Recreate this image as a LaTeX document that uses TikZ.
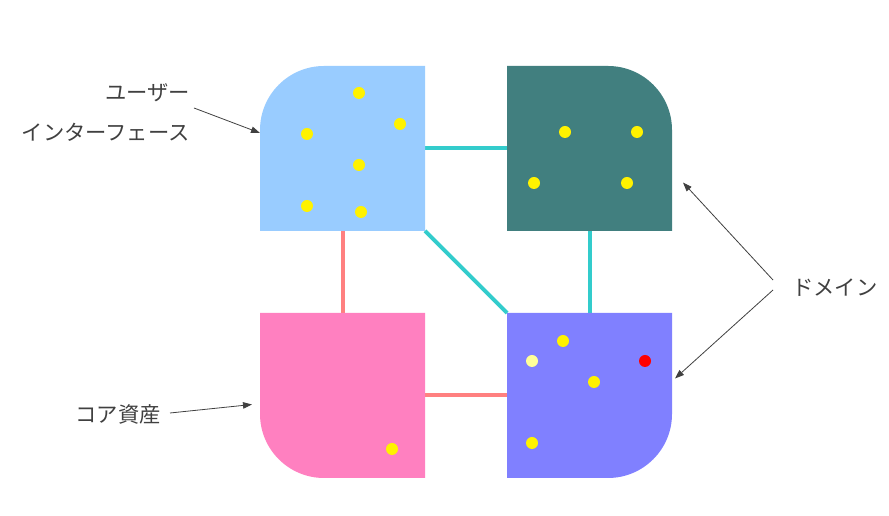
\documentclass[tikz,border=0pt]{standalone}
\usepackage{fontspec}
\newfontfamily\jpfont{Noto Sans CJK JP}
\usetikzlibrary{positioning,arrows.meta}

\definecolor{uiblue}{HTML}{99CCFF}
\definecolor{domteal}{HTML}{417F7F}
\definecolor{corepink}{HTML}{FF80C0}
\definecolor{domviolet}{HTML}{8080FF}
\definecolor{linkcyan}{HTML}{33CCCC}
\definecolor{linksalmon}{HTML}{FF8080}
\definecolor{palegold}{HTML}{FFFF99}
\definecolor{labelgray}{HTML}{404040}

\begin{document}
\begin{tikzpicture}[x=1pt,y=1pt,
    block/.style={minimum size=165pt, inner sep=0pt, outer sep=0pt},
    link/.style={line width=4pt},
    tag/.style={text=labelgray, inner sep=0pt, align=right,
        font=\jpfont\fontsize{21.3}{40}\selectfont},
    pointer/.style={-{Triangle[length=9pt,width=6.5pt]}, labelgray, line width=0.8pt}]
    \useasboundingbox (0,0) rectangle (889,516);

    % Quadrants
    \node[block] (ui) at (342.5,367.5) {};
    \node[block, right=82pt of ui] (dtop) {};
    \node[block, below=82pt of ui] (core) {};
    \node[block, right=82pt of core] (dbot) {};

    % Links
    \draw[link, linkcyan] (ui) -- (dtop);
    \draw[link, linkcyan] (ui) -- (dbot);
    \draw[link, linkcyan] (dtop) -- (dbot);
    \draw[link, linksalmon] (ui) -- (core);
    \draw[link, linksalmon] (core) -- (dbot);

    % Shapes with one rounded corner
    \fill[uiblue] (ui.south west) -- ([yshift=-64pt]ui.north west)
        arc[start angle=180, end angle=90, radius=64pt] -- (ui.north east) -- (ui.south east) -- cycle;
    \fill[domteal] (dtop.south west) -- (dtop.north west) -- ([xshift=-64pt]dtop.north east)
        arc[start angle=90, end angle=0, radius=64pt] -- (dtop.south east) -- cycle;
    \fill[corepink] (core.north west) -- ([yshift=64pt]core.south west)
        arc[start angle=180, end angle=270, radius=64pt] -- (core.south east) -- (core.north east) -- cycle;
    \fill[domviolet] (dbot.north west) -- (dbot.south west) -- ([xshift=-64pt]dbot.south east)
        arc[start angle=270, end angle=360, radius=64pt] -- (dbot.north east) -- cycle;

    % Dots
    \foreach \px/\py in {359/423, 400/392, 307/382, 359/351, 307/310, 361/304,
                         565/384, 637/384, 534/333, 627/333,
                         392/67, 563/175, 594/134, 532/73}
        \fill[yellow] (\px,\py) circle[radius=6pt];
    \fill[palegold] (532,155) circle[radius=6pt];
    \fill[red] (645,155) circle[radius=6pt];

    % Labels
    \node[tag, anchor=east] (uitag) at (190,403) {ユーザー\\インターフェース};
    \node[tag, anchor=east] (coretag) at (161,102) {コア資産};
    \node[tag, anchor=west] (domtag) at (792,228) {ドメイン};

    \coordinate (uitip) at ([yshift=-67pt]ui.north west);
    \coordinate (coretip) at ([xshift=-8pt,yshift=-9pt]core.west);
    \coordinate (dtoptip) at ([xshift=11pt,yshift=-34pt]dtop.east);
    \coordinate (dbottip) at ([xshift=3pt,yshift=17pt]dbot.east);

    \draw[pointer] ([xshift=4pt,yshift=5pt]uitag.east) -- (uitip);
    \draw[pointer] ([xshift=9pt,yshift=1pt]coretag.east) -- (coretip);
    \draw[pointer] ([xshift=-19pt,yshift=8pt]domtag.west) -- (dtoptip);
    \draw[pointer] ([xshift=-19pt,yshift=-2pt]domtag.west) -- (dbottip);
\end{tikzpicture}
\end{document}
